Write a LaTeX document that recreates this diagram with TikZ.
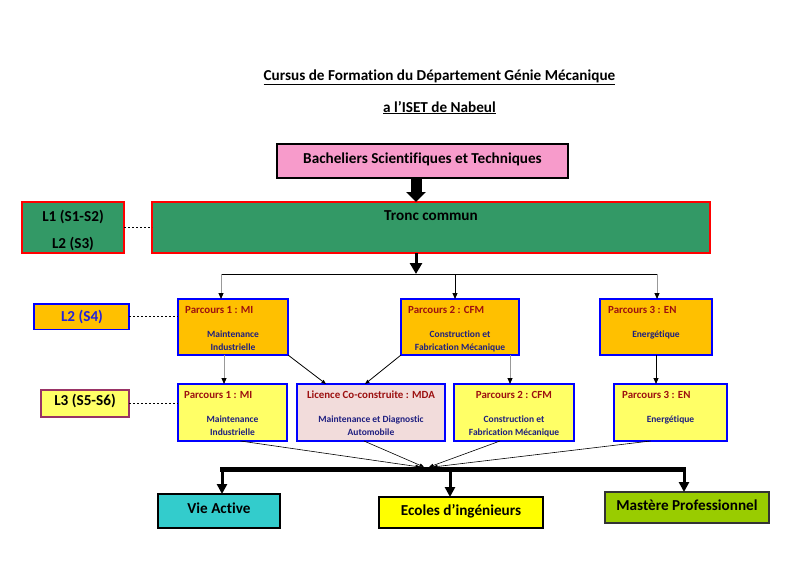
\documentclass[tikz,border=0pt]{standalone}
\usepackage{fontspec}
\setmainfont{Carlito}[Ligatures=CommonOff]
\usetikzlibrary{arrows.meta}
\definecolor{bachpink}{HTML}{F79BCB}
\definecolor{tronc}{HTML}{339966}
\definecolor{gold}{HTML}{FFC000}
\definecolor{lyellow}{HTML}{FFFF66}
\definecolor{mdapink}{HTML}{F2DCDB}
\definecolor{vcyan}{HTML}{33CCCC}
\definecolor{eyellow}{HTML}{FFFF00}
\definecolor{mlime}{HTML}{99CC00}
\definecolor{ttlred}{HTML}{9C1010}
\definecolor{bodyblue}{HTML}{1F1F80}
\definecolor{lvlblue}{HTML}{2222DD}
\definecolor{bordblue}{HTML}{0000FF}
\definecolor{lthreebord}{HTML}{993366}
\definecolor{linegray}{HTML}{999999}
\begin{document}
\begin{tikzpicture}[x=1pt,y=-1pt,
  box/.style={draw, line width=1.2pt, anchor=north west, inner sep=0pt, outer sep=0pt},
  big/.style={font=\bfseries\fontsize{15.2}{17}\selectfont, inner sep=0pt, anchor=base},
  ptitle/.style={font=\bfseries\fontsize{10.9}{12}\selectfont, text=ttlred, inner sep=0pt, anchor=base west},
  pbody/.style={font=\bfseries\fontsize{9.5}{11}\selectfont, text=bodyblue, inner sep=0pt, anchor=base},
  smallarrow/.style={line width=0.9pt, -{Triangle[width=5pt,length=6pt,color=black]}},
  convarrow/.style={line width=0.6pt, -{Triangle[width=3.5pt,length=4.5pt]}},
  dotline/.style={line width=0.8pt, dash pattern=on 2pt off 2pt},
  droparrow/.style={line width=3pt, -{Triangle[width=10pt,length=10pt]}},
]
\useasboundingbox (0,0) rectangle (800,565);

% titles
\node[big] (title1) at (439.5,80) {\underline{Cursus de Formation du Département Génie Mécanique}};
\node[big] (title2) at (439.5,112) {\underline{a l’ISET de Nabeul}};

% top
\node[box, fill=bachpink, draw=black, minimum width=291, minimum height=34] (bach) at (277,144) {};
\node[big] (bachtxt) at (422.5,163) {Bacheliers Scientifiques et Techniques};

\node[box, fill=tronc, draw=red, minimum width=558, minimum height=51] (tronc) at (152,202) {};
\node[big] (tronctxt) at (431,220) {Tronc commun};

\node[box, fill=tronc, draw=red, minimum width=102, minimum height=51] (lvl1) at (22,202) {};
\node[big] (lvl1a) at (73,221) {L1 (S1-S2)};
\node[big] (lvl1b) at (73,248) {L2 (S3)};
\draw[dotline] (lvl1.east) -- (tronc.west);

\coordinate (ax) at (416,0);
\draw[line width=11pt, -{Triangle[width=19pt,length=10pt]}] (bach.south -| ax) -- (tronc.north -| ax);

\coordinate (hub) at (416,274);
\coordinate (b1) at (221,274);
\coordinate (b2) at (455,274);
\coordinate (b3) at (657,274);
\draw[line width=3pt, -{Triangle[width=12pt,length=11pt]}] (tronc.south -| ax) -- (hub);
\draw[line width=1pt] (b1) -- (b3);

% L2 row
\node[box, fill=gold, draw=bordblue, minimum width=95, minimum height=25.5] (lvl2) at (34,304) {};
\node[big, text=lvlblue] (lvl2txt) at (82,321.5) {L2 (S4)};

\node[box, fill=gold, draw=bordblue, minimum width=110, minimum height=56] (p1) at (178,299) {};
\node[box, fill=gold, draw=bordblue, minimum width=118, minimum height=56] (p2) at (401,299) {};
\node[box, fill=gold, draw=bordblue, minimum width=112, minimum height=56] (p3) at (600,299) {};
\draw[dotline] (lvl2.east) -- (lvl2.east -| p1.west);

\draw[smallarrow, linegray] (b1) -- (b1 |- p1.north);
\draw[smallarrow, black] (b2) -- (b2 |- p2.north);
\draw[smallarrow, linegray] (b3) -- (b3 |- p3.north);

\node[ptitle] (p1t) at (185,313) {Parcours 1 : MI};
\node[pbody] (p1a) at (233,337) {Maintenance};
\node[pbody] (p1b) at (233,350) {Industrielle};
\node[ptitle] (p2t) at (408,313) {Parcours 2 : CFM};
\node[pbody] (p2a) at (460,337) {Construction et};
\node[pbody] (p2b) at (460,350) {Fabrication Mécanique};
\node[ptitle] (p3t) at (608,313) {Parcours 3 : EN};
\node[pbody] (p3a) at (656,337) {Energétique};

% L3 row
\node[box, fill=lyellow, draw=lthreebord, minimum width=88, minimum height=27] (lvl3) at (41,390) {};
\node[big] (lvl3txt) at (85,405.5) {L3 (S5-S6)};

\node[box, fill=lyellow, draw=bordblue, minimum width=109, minimum height=57] (q1) at (178,384) {};
\node[box, fill=mdapink, draw=bordblue, minimum width=148, minimum height=57] (mda) at (297,384) {};
\node[box, fill=lyellow, draw=bordblue, minimum width=120, minimum height=57] (q2) at (454,384) {};
\node[box, fill=lyellow, draw=bordblue, minimum width=113, minimum height=57] (q3) at (614,384) {};
\draw[dotline] (lvl3.east) -- (lvl3.east -| q1.west);

\node[ptitle] (q1t) at (184,398) {Parcours 1 : MI};
\node[pbody] (q1a) at (232.5,422.5) {Maintenance};
\node[pbody] (q1b) at (232.5,435.5) {Industrielle};
\node[ptitle, anchor=base] (mdat) at (371,398) {Licence Co-construite : MDA};
\node[pbody] (mdaa) at (371,422.5) {Maintenance et Diagnostic};
\node[pbody] (mdab) at (371,435.5) {Automobile};
\node[ptitle, anchor=base] (q2t) at (514,398) {Parcours 2 : CFM};
\node[pbody] (q2a) at (514,422.5) {Construction et};
\node[pbody] (q2b) at (514,435.5) {Fabrication Mécanique};
\node[ptitle] (q3t) at (622,398) {Parcours 3 : EN};
\node[pbody] (q3a) at (670.5,422.5) {Energétique};

% L2 -> L3
\draw[smallarrow, linegray] ([xshift=-9pt]p1.south) -- ([xshift=-9pt]p1.south |- q1.north);
\draw[convarrow, line width=0.8pt] (p1.south east) -- ([xshift=-45pt]mda.north);
\draw[convarrow, line width=0.8pt] (p2.south west) -- ([xshift=-6pt]mda.north);
\draw[smallarrow, linegray] ([xshift=50pt]p2.south) -- ([xshift=50pt]p2.south |- q2.north);
\draw[smallarrow, black] (p3.south) -- (p3.south |- q3.north);

% converging
\coordinate (c1) at (420,467);
\coordinate (c2) at (424,467);
\coordinate (c3) at (429,467);
\coordinate (c4) at (433,467);
\draw[convarrow] ([xshift=8pt]q1.south) -- (c1);
\draw[convarrow] ([xshift=-7pt]mda.south) -- (c2);
\draw[convarrow] ([xshift=-14pt]q2.south) -- (c3);
\draw[convarrow] ([xshift=-20pt]q3.south) -- (c4);

% bottom
\coordinate (d1) at (220,469.5);
\coordinate (d3) at (686,469.5);
\coordinate (e1) at (222,469.5);
\coordinate (e2) at (450,469.5);
\coordinate (e3) at (684,469.5);
\draw[line width=5pt] (d1) -- (d3);

\node[box, fill=vcyan, draw=black, minimum width=122, minimum height=34] (va) at (158,494) {};
\node[box, fill=eyellow, draw=black, minimum width=164, minimum height=31] (ei) at (379,497) {};
\node[box, fill=mlime, draw=black!80, minimum width=164, minimum height=31] (mp) at (605,492) {};
\node[big] (vatxt) at (219,513) {Vie Active};
\node[big] (eitxt) at (461,515) {Ecoles d’ingénieurs};
\node[big] (mptxt) at (687,510) {Mastère Professionnel};

\draw[droparrow] (e1) -- (e1 |- va.north);
\draw[droparrow] (e2) -- (e2 |- ei.north);
\draw[droparrow] (e3) -- (e3 |- mp.north);
\end{tikzpicture}
\end{document}
